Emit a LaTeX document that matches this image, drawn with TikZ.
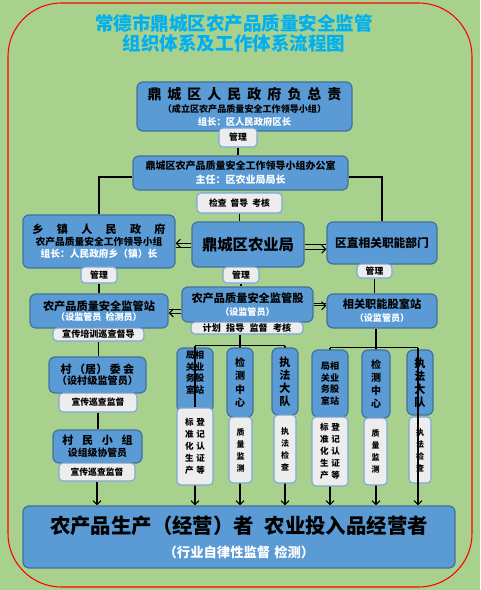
\documentclass[tikz,border=0pt]{standalone}
\usepackage{fontspec}
\setmainfont{Noto Sans CJK SC}
\usetikzlibrary{arrows.meta,backgrounds}
\definecolor{bg}{HTML}{A9D18E}
\definecolor{bfill}{HTML}{5B9BD5}
\definecolor{bline}{HTML}{41719C}
\definecolor{wfill}{HTML}{EDEDED}
\definecolor{wline}{HTML}{7EA6D8}
\definecolor{ttl}{HTML}{00B0F0}
\newcommand\wt[1]{\textcolor{white}{#1}}
\newcommand\fs[2]{\fontsize{#1}{#2}\selectfont}
\newcommand\mkbox[7]{\node[#2, minimum width={(#5-#3)*0.75pt}, minimum height={(#6-#4)*0.75pt}] (#1) at ({(#3+#5)/2},{(#4+#6)/2}) {#7};}
\tikzset{
  bbox/.style={draw=bline, fill=bfill, rounded corners=4.5pt, line width=0.9pt, inner sep=0pt, align=center, text=black, font=\bfseries},
  wbox/.style={draw=wline, fill=wfill, rounded corners=3pt, line width=0.8pt, inner sep=0pt, align=center, text=black, font=\bfseries\fs{6.6}{8}},
  conn/.style={line width=0.8pt, black},
  arr/.style={conn, -{Straight Barb[length=3pt,width=6pt]}}
}
\begin{document}
\begin{tikzpicture}[x=0.75pt,y=-0.75pt]
\useasboundingbox (0,0) rectangle (480,590);
\begin{scope}[on background layer]
  \fill[bg] (0,0) rectangle (480,590);
  \draw[red, line width=0.8pt, rounded corners=40pt] (8,3) rectangle (472,587);
\end{scope}

\node[font=\bfseries\fs{13.9}{15}, text=ttl, align=center, inner sep=0pt] (title) at (234,33) {常德市鼎城区农产品质量安全监管\\组织体系及工作体系流程图};

\mkbox{top}{bbox, font=\bfseries\fs{7}{9.8}}{137}{82}{352}{131}{{\fs{10.5}{9.8}鼎\hspace{4.5pt}城\hspace{4.5pt}区\hspace{4.5pt}人\hspace{4.5pt}民\hspace{4.5pt}政\hspace{4.5pt}府\hspace{4.5pt}负\hspace{4.5pt}总\hspace{4.5pt}责}\\{\fs{6.8}{9.8}（成立区农产品质量安全工作领导小组）}\\\wt{组长：区人民政府区长}}
\mkbox{gla}{wbox}{219}{128}{257}{147}{管理}
\mkbox{office}{bbox, font=\bfseries\fs{7.5}{10.5}}{133}{156}{348}{190}{鼎城区农产品质量安全工作领导小组办公室\\\wt{主任：区农业局局长}}
\mkbox{jc}{wbox}{197}{193}{282}{213}{检查\hspace{3pt}督导\hspace{3pt}考核}

\mkbox{xz}{bbox, font=\bfseries\fs{7.3}{9}}{23}{215}{175}{268}{{\fs{8.3}{9}乡\hspace{10pt}镇\hspace{10pt}人\hspace{10pt}民\hspace{10pt}政\hspace{10pt}府}\\农产品质量安全工作领导小组\\\wt{组长：人民政府乡（镇）长}}
\mkbox{glb}{wbox}{81}{267}{117}{283}{管理}
\mkbox{nyj}{bbox, font=\bfseries\fs{11.5}{13}}{192}{222}{304}{267}{鼎城区农业局}
\mkbox{glc}{wbox}{223}{267}{259}{283}{管理}
\mkbox{qz}{bbox, font=\bfseries\fs{8.8}{10}}{327}{222}{437}{264}{区直相关职能部门}
\mkbox{gld}{wbox}{357}{264}{392}{278}{管理}

\mkbox{jgz}{bbox, font=\bfseries\fs{6.8}{8}}{30}{294}{168}{328}{{\fs{8.4}{8}农产品质量安全监管站}\\\wt{（设监管员\hspace{3pt}检测员）}}
\mkbox{xca}{wbox, font=\bfseries\fs{6.8}{8}}{53}{328}{144}{341}{宣传培训巡查督导}
\mkbox{jgg}{bbox, font=\bfseries\fs{6.8}{9.6}}{182}{287}{313}{322}{{\fs{8.4}{9.6}农产品质量安全监管股}\\\wt{（设监管员）}}
\mkbox{jh}{wbox, font=\bfseries\fs{6.8}{8}}{191}{322}{303}{334}{计划\hspace{4pt}指导\hspace{4pt}监督\hspace{4pt}考核}
\mkbox{gsz}{bbox, font=\bfseries\fs{6.8}{9.6}}{327}{294}{437}{328}{{\fs{8.4}{9.6}相关职能股室站}\\\wt{（设监管员）}}

\mkbox{cwh}{bbox, font=\bfseries\fs{7.6}{8.4}}{49}{357}{146}{393}{{\fs{8.3}{8.4}村\hspace{1.8pt}（居）\hspace{1.8pt}委\hspace{1.8pt}会}\\（设村级监管员）}
\mkbox{xcb}{wbox}{59}{393}{137}{412}{宣传巡查监督}
\mkbox{cmz}{bbox, font=\bfseries\fs{7.4}{9}}{53}{430}{142}{463}{{\fs{8.3}{9}村\hspace{6.5pt}民\hspace{6.5pt}小\hspace{6.5pt}组}\\设组级协管员}
\mkbox{xcc}{wbox}{59}{463}{135}{481}{宣传巡查监督}

\mkbox{aa}{bbox, font=\bfseries\fs{6.8}{8.8}}{177}{348}{213}{412}{局相\\关业\\务股\\室站\\[3pt]}
\mkbox{aaw}{wbox, font=\bfseries\fs{6.4}{9}}{177}{408}{213}{485}{标\hspace{2pt}登\\准\hspace{2pt}记\\化\hspace{2pt}认\\生\hspace{2pt}证\\产\hspace{2pt}等}
\mkbox{ba}{bbox, font=\bfseries\fs{7.5}{9.8}}{227}{348}{253}{417}{检\\测\\中\\心}
\mkbox{baw}{wbox, font=\bfseries\fs{6}{9}}{229}{417}{252}{483}{质\\量\\监\\测}
\mkbox{ca}{bbox, font=\bfseries\fs{8.3}{9.8}}{272}{348}{298}{415}{执\\法\\大\\队}
\mkbox{caw}{wbox, font=\bfseries\fs{6}{9}}{274}{415}{296}{483}{执\\法\\检\\查}

\mkbox{ab}{bbox, font=\bfseries\fs{6.8}{8.8}}{312}{350}{348}{417}{局相\\关业\\务股\\室站}
\mkbox{abw}{wbox, font=\bfseries\fs{6.4}{9}}{312}{417}{348}{486}{标\hspace{2pt}登\\准\hspace{2pt}记\\化\hspace{2pt}认\\生\hspace{2pt}证\\产\hspace{2pt}等}
\mkbox{bb}{bbox, font=\bfseries\fs{7.5}{9.8}}{362}{350}{390}{418}{检\\测\\中\\心}
\mkbox{bbw}{wbox, font=\bfseries\fs{6}{9}}{364}{418}{387}{485}{质\\量\\监\\测}
\mkbox{cb}{bbox, font=\bfseries\fs{8.3}{9.8}}{407}{350}{433}{415}{执\\法\\大\\队}
\mkbox{cbw}{wbox, font=\bfseries\fs{6}{9}}{409}{417}{431}{483}{执\\法\\检\\查}

\mkbox{bottom}{bbox, font=\bfseries\fs{10}{18}}{23}{506}{455}{568}{{\fs{15.3}{18}农产品生产（经营）者\hspace{8pt}农业投入品经营者}\\\wt{（行业自律性监督\hspace{3pt}检测）}}

\path (ba.north |- jh.south) ++(0,11) coordinate (mh);
\path (bb.north |- gsz.south) ++(0,19) coordinate (rh);

\begin{scope}[on background layer]
  \draw[conn] (gla.south) -- (gla.south |- office.north);
  \draw[conn] ([yshift=-3pt]office.west) -| (xz.north);
  \draw[conn] ([yshift=-3pt]office.east) -| (qz.north);
  \draw[conn] (jc.south) -- (jc.south |- nyj.north);
  \draw[arr] ([yshift=1pt]nyj.west) -- ([yshift=1pt]nyj.west -| xz.east);
  \draw[conn] ([yshift=-2pt]nyj.west) -- ([yshift=-2pt]nyj.west -| xz.east);
  \draw[conn] (nyj.east) -- (nyj.east -| qz.west);
  \draw[arr] ([yshift=-3.5pt]nyj.east) -- ([yshift=-3.5pt]nyj.east -| qz.west);
  \draw[conn] (glb.south) -- (glb.south |- jgz.north);
  \draw[conn] (glc.south) -- (glc.south |- jgg.north);
  \draw[conn] (gld.south) -- (gld.south |- gsz.north);
  \draw[conn] ([yshift=-3.4pt]jgg.west) -- ([yshift=-3.4pt]jgg.west -| jgz.east);
  \draw[arr] ([yshift=-6.4pt]jgg.west) -- ([yshift=-6.4pt]jgg.west -| jgz.east);
  \draw[conn] ([yshift=1pt]jgg.east) -- ([yshift=1pt]jgg.east -| gsz.west);
  \draw[arr] ([yshift=-1pt]jgg.east) -- ([yshift=-1pt]jgg.east -| gsz.west);
  \draw[conn] (xca.south) -- (xca.south |- cwh.north);
  \draw[conn] (xcb.south) -- (xcb.south |- cmz.north);
  \draw[arr] (xcc.south) -- (xcc.south |- bottom.north);
  \draw[conn] (ba.north |- jh.south) -- (mh);
  \draw[conn] (aa.north |- mh) -- (ca.north |- mh);
  \draw[arr] (aa.north |- mh) -- (aa.north |- bottom.north);
  \draw[arr] (mh) -- (ba.north |- bottom.north);
  \draw[arr] (ca.north |- mh) -- (ca.north |- bottom.north);
  \draw[conn] (bb.north |- gsz.south) -- (rh);
  \draw[conn] (ab.north |- rh) -- ([xshift=-1.5pt]cb.north |- rh);
  \draw[arr] (ab.north |- rh) -- (ab.north |- bottom.north);
  \draw[arr] (rh) -- (bb.north |- bottom.north);
\end{scope}
\draw[conn] (aa.north |- mh) -- (aaw.north);
\draw[arr] ([xshift=-1.5pt]cb.north |- rh) -- ([xshift=-1.5pt]cb.north |- bottom.north);
\end{tikzpicture}
\end{document}
